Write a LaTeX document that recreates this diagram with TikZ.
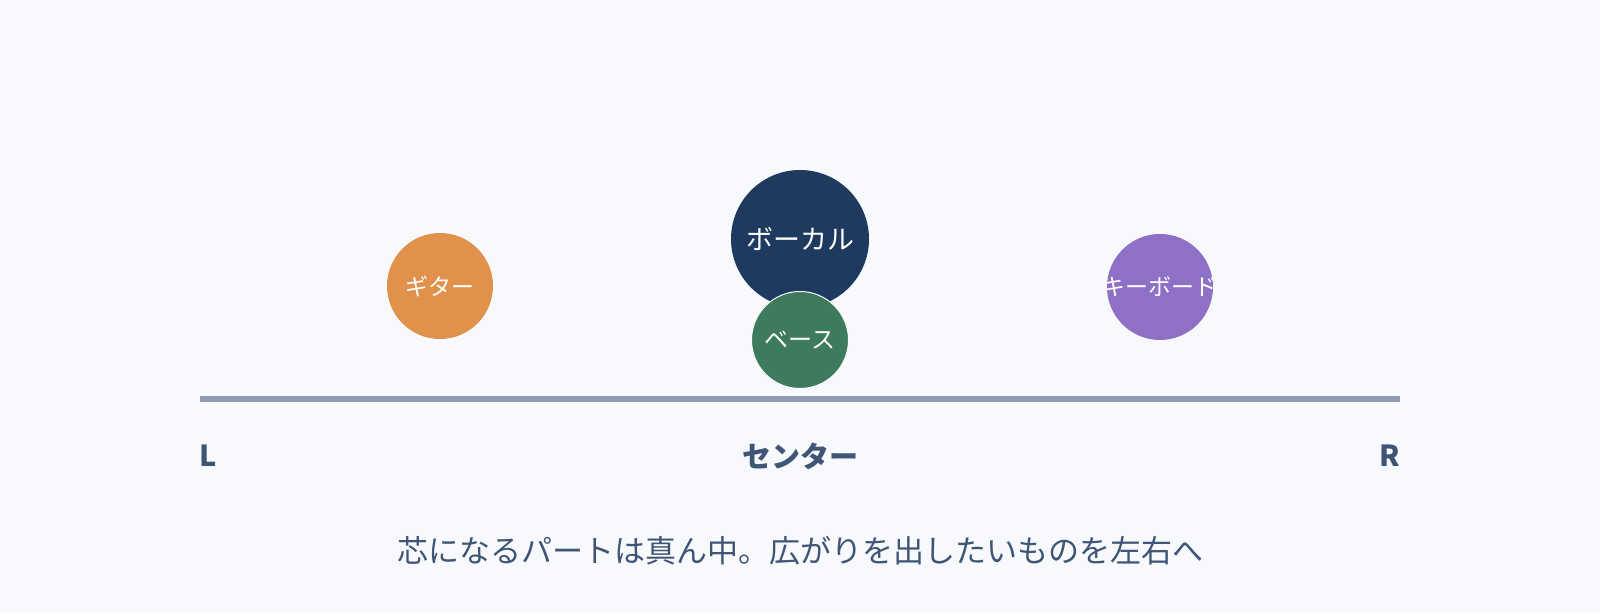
\documentclass[tikz,border=0pt]{standalone}
\usepackage{fontspec}
\setmainfont{Noto Sans CJK JP}
\usepackage{tikz}
\usetikzlibrary{positioning}

\definecolor{bgc}{HTML}{F7F9FC}
\definecolor{axisc}{HTML}{8E9BB0}
\definecolor{txtc}{HTML}{3F5575}
\definecolor{guitarc}{HTML}{E0914B}
\definecolor{vocalc}{HTML}{1F3A5F}
\definecolor{bassc}{HTML}{3E7A5C}
\definecolor{keysc}{HTML}{8E70C6}

\begin{document}
\begin{tikzpicture}[x=1pt, y=1pt,
  part/.style={circle, inner sep=0pt, text=white, font=\fontsize{23}{23}\selectfont},
  side/.style={text=txtc, font=\bfseries\fontsize{29}{29}\selectfont}]
  \useasboundingbox (0,0) rectangle (1600,613);
  \fill[bgc] (0,0) rectangle (1600,613);
  % stage axis
  \coordinate (left) at (200,214);
  \coordinate (right) at (1400,214);
  \draw[axisc, line width=5.5pt] (left) -- (right);
  \node[side] (lbl-l) at (208,157) {L};
  \node[side] (lbl-c) at (800,157) {センター};
  \node[side] (lbl-r) at (1390,157) {R};
  % parts
  \node[part, fill=guitarc, minimum size=106pt] (guitar) at (440,327) {ギター};
  \node[part, fill=vocalc, minimum size=138pt, font=\fontsize{27}{27}\selectfont] (vocal) at (800,374) {ボーカル};
  \node[part, fill=bassc, draw=bgc, line width=1pt, minimum size=97pt, font=\fontsize{24}{24}\selectfont] (bass) at (800,273) {ベース};
  \node[part, fill=keysc, minimum size=106pt] (keys) at (1160,326) {\makebox[0pt]{キーボード}};
  % caption
  \node[text=txtc, font=\fontsize{31}{31}\selectfont] (caption) at (800,62)
    {芯になるパートは真ん中。広がりを出したいものを左右へ};
\end{tikzpicture}
\end{document}
